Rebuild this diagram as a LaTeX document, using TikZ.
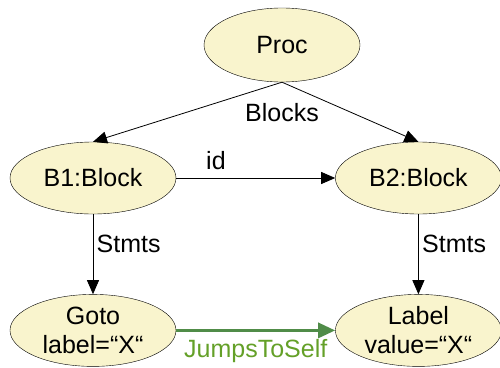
\documentclass[tikz,border=0pt]{standalone}
\usepackage{fontspec}
\setmainfont{Liberation Sans}
\usetikzlibrary{positioning,arrows.meta,shapes.geometric}
\definecolor{objfill}{RGB}{249,244,205}
\definecolor{jumpline}{RGB}{80,140,72}
\definecolor{jumptext}{RGB}{100,160,40}
\tikzset{
  obj/.style={ % image of an object in the tree
    ellipse, draw, thin, fill=objfill,
    minimum width=166pt, minimum height=72pt,
    inner sep=0pt, align=center, text=black
  },
  ref/.style={ % image of a tree reference
    -{Triangle[length=14pt,width=12pt]}, thick
  },
  jump/.style={ % image of the extra jump link
    -{Triangle[length=17pt,width=15pt]}, line width=3pt, jumpline
  }
}

\begin{document}
\begin{tikzpicture}[
      x=1pt, y=-1pt, font=\fontsize{25}{29}\selectfont
    ]
      \useasboundingbox (0,0) rectangle (500,367);

      \node[obj,minimum width=156pt,minimum height=74pt] (proc) at (282,45) {Proc};
      \node[obj] (b1) at (93,178) {B1:Block};
      \node[obj] (b2) [right=159pt of b1] {B2:Block};
      \node[obj] (goto) [below=80pt of b1] {Goto\\label=“X“};
      \node[obj] (lbl) [below=80pt of b2] {Label\\value=“X“};
      \node (blocks_text) [below=18pt of proc] {Blocks};

      \draw[ref] (proc.south) -- (b1.north);
      \draw[ref] (proc.south) -- (b2.north);
      \draw[ref] (b1) -- node[above,pos=0.25,inner sep=8pt] (id_text) {id} (b2);
      \draw[ref] (b1) -- node[right,pos=0.37] (stmts_left) {Stmts} (goto);
      \draw[ref] (b2) -- node[right,pos=0.37] (stmts_right) {Stmts} (lbl);
      \draw[jump] (goto) -- node[below,text=jumptext,inner sep=7pt] (jumps_text) {JumpsToSelf} (lbl);
    \end{tikzpicture}
\end{document}
